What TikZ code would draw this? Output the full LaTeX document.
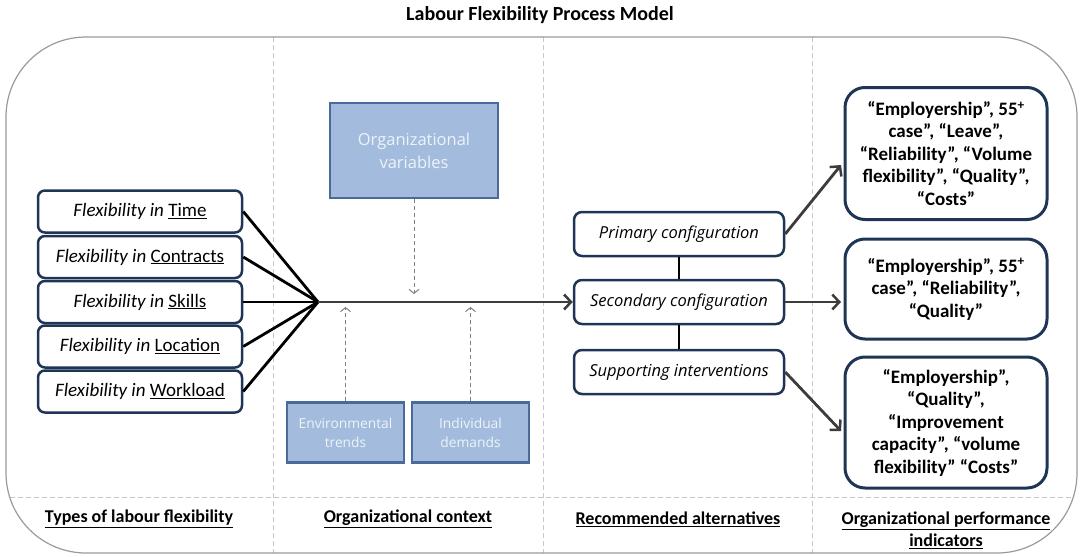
\documentclass[tikz,border=0pt]{standalone}
\usepackage{fontspec}
\setmainfont{Carlito}
\newfontfamily\seg{Open Sans}
\usetikzlibrary{arrows.meta}
\definecolor{navy}{HTML}{1F3556}
\definecolor{bluefill}{HTML}{A3BCDD}
\definecolor{blueedge}{HTML}{4A6A9A}
\definecolor{bluetext}{HTML}{EEF3F9}
\definecolor{arrowgray}{HTML}{3C3C3C}
\definecolor{framegray}{HTML}{9A9A9A}
\definecolor{dashgray}{HTML}{C8C8C8}
\begin{document}
\begin{tikzpicture}[x=1pt,y=-1pt,
  flexbox/.style={draw=navy, line width=2.5pt, rounded corners=7pt, fill=white,
    minimum width=204pt, minimum height=42pt, inner sep=0pt,
    font=\fontsize{19}{22}\selectfont},
  midbox/.style={draw=navy, line width=2.5pt, rounded corners=8pt, fill=white,
    minimum width=210pt, minimum height=44pt, inner sep=0pt,
    font=\seg\itshape\fontsize{16.5}{19}\selectfont},
  perfbox/.style={draw=navy, line width=3pt, rounded corners=20pt, fill=white,
    minimum width=202pt, align=center, inner sep=0pt,
    font=\bfseries\fontsize{19}{22.5}\selectfont},
  bluebox/.style={draw=blueedge, line width=2.5pt, fill=bluefill, text=bluetext,
    align=center, inner sep=0pt},
  fan/.style={line width=2.8pt, black},
  mainarrow/.style={line width=2.8pt, arrowgray, -{Straight Barb[length=7pt,width=15pt,line width=2.5pt]}},
  dasharrow/.style={line width=1pt, gray, dashed, dash pattern=on 4pt off 3pt, -{Straight Barb[length=4pt,width=10pt,line width=1pt]}},
  sep/.style={dashgray, line width=0.8pt, dash pattern=on 5pt off 3pt},
  collabel/.style={font=\bfseries\fontsize{18}{22}\selectfont, align=center},
]
\useasboundingbox (0,0) rectangle (1080,557);

% title
\node[font=\bfseries\fontsize{20}{22}\selectfont] (title) at (540,15) {Labour Flexibility Process Model};

% frame and separators
\draw[sep] (273,37) -- (273,553);
\draw[sep] (543,37) -- (543,553);
\draw[sep] (812,37) -- (812,553);
\draw[sep] (10,497) -- (1073,497);
\draw[framegray, line width=1.2pt, rounded corners=80pt] (6,37) rectangle (1077,553);

% left boxes
\node[flexbox] (time) at (140,211.5) {\itshape Flexibility in \upshape\underline{Time}};
\node[flexbox] (contracts) at (140,257) {\itshape Flexibility in \upshape\underline{Contracts}};
\node[flexbox] (skills) at (140,302) {\itshape Flexibility in \upshape\underline{Skills}};
\node[flexbox] (location) at (140,346.5) {\itshape Flexibility in \upshape\underline{Location}};
\node[flexbox] (workload) at (140,391.5) {\itshape Flexibility in \upshape\underline{Workload}};

\coordinate (hub) at (318,302);
\draw[fan] (time.east) -- (hub);
\draw[fan] (contracts.east) -- (hub);
\draw[fan] (skills.east) -- (hub);
\draw[fan] (location.east) -- (hub);
\draw[fan] (workload.east) -- (hub);

% blue boxes
\node[bluebox, minimum width=168pt, minimum height=95pt, font=\seg\fontsize{16.5}{23}\selectfont] (orgvar) at (414,150.5) {Organizational\\variables};
\node[bluebox, minimum width=117pt, minimum height=60pt, font=\seg\fontsize{13.8}{19}\selectfont] (env) at (345.5,432.5) {Environmental\\trends};
\node[bluebox, minimum width=117pt, minimum height=60pt, font=\seg\fontsize{13.8}{19}\selectfont] (indiv) at (470.5,432.5) {Individual\\demands};

% middle boxes
\node[midbox] (prim) at (679,234) {Primary configuration};
\node[midbox] (sec) at (679,302) {Secondary configuration};
\node[midbox] (sup) at (679,372) {Supporting interventions};
\draw[line width=2.8pt, black] (prim.south) -- (sec.north);
\draw[line width=2.8pt, black] (sec.south) -- (sup.north);

% main arrow
\draw[mainarrow] (hub) -- (sec.west);

% dashed influence arrows
\coordinate (d1) at (414,294);
\coordinate (d2) at (345.5,307);
\coordinate (d3) at (470.5,307);
\draw[dasharrow] (orgvar.south) -- (d1);
\draw[dasharrow] (env.north) -- (d2);
\draw[dasharrow] (indiv.north) -- (d3);

% performance boxes
\node[perfbox, minimum height=132pt] (r1) at (946,153.5) {“Employership”, 55\textsuperscript{+}\\ case”, “Leave”,\\ “Reliability”, “Volume\\ flexibility”, “Quality”,\\ “Costs”};
\node[perfbox, minimum height=100pt] (r2) at (946,289) {“Employership”, 55\textsuperscript{+}\\ case”, “Reliability”,\\ “Quality”};
\node[perfbox, minimum height=131pt] (r3) at (946,422.5) {“Employership”,\\ “Quality”,\\ “Improvement\\ capacity”, “volume\\ flexibility” “Costs”};

\coordinate (a1) at (841,165);
\coordinate (a2) at (841,302);
\coordinate (a3) at (841,431);
\draw[mainarrow] (prim.east) -- (a1);
\draw[mainarrow] (sec.east) -- (a2);
\draw[mainarrow] (sup.east) -- (a3);

% column labels
\node[collabel] (l1) at (139,519) {\underline{Types of labour flexibility}};
\node[collabel] (l2) at (408,519) {\underline{Organizational context}};
\node[collabel] (l3) at (678,519) {\underline{Recommended alternatives}};
\node[collabel] (l4) at (946,530) {\underline{Organizational performance}\\\underline{indicators}};
\end{tikzpicture}
\end{document}
